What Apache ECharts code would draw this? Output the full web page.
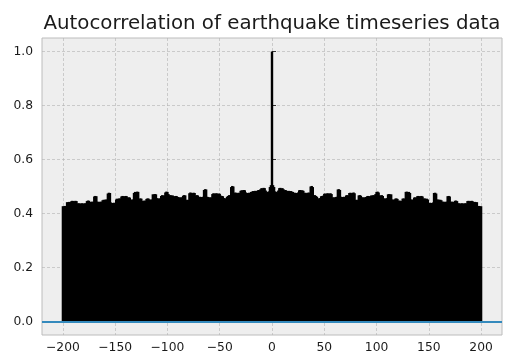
<!DOCTYPE html>
<html>
<head>
<meta charset="utf-8">
<script src="https://cdn.jsdelivr.net/npm/echarts@6/dist/echarts.min.js"></script>
<style>
  html, body { margin: 0; padding: 0; background: #ffffff; }
  #chart { width: 506px; height: 354px; }
</style>
</head>
<body>
<div id="chart"></div>
<script>
// autocorrelation for lags 0..200 (the acf is symmetric, negative lags mirror these)
const acfPositive = [
  1.000,
  0.505, 0.498, 0.482, 0.480, 0.478, 0.485, 0.494, 0.495, 0.492, 0.494,
  0.490, 0.486, 0.487, 0.484, 0.483, 0.484, 0.482, 0.483, 0.481, 0.480,
  0.476, 0.477, 0.475, 0.476, 0.478, 0.486, 0.487, 0.485, 0.486, 0.484,
  0.476, 0.477, 0.475, 0.476, 0.478, 0.476, 0.500, 0.502, 0.498, 0.467,
  0.468, 0.465, 0.462, 0.455, 0.456, 0.457, 0.464, 0.465, 0.466, 0.473,
  0.474, 0.472, 0.475, 0.474, 0.473, 0.475, 0.472, 0.459, 0.460, 0.458,
  0.461, 0.462, 0.489, 0.490, 0.487, 0.462, 0.461, 0.460, 0.462, 0.461,
  0.467, 0.468, 0.466, 0.476, 0.477, 0.475, 0.476, 0.478, 0.475, 0.450,
  0.451, 0.449, 0.467, 0.468, 0.466, 0.459, 0.460, 0.458, 0.460, 0.461,
  0.464, 0.465, 0.463, 0.464, 0.467, 0.466, 0.468, 0.467, 0.472, 0.480,
  0.481, 0.478, 0.467, 0.466, 0.468, 0.465, 0.455, 0.456, 0.454, 0.457,
  0.471, 0.472, 0.470, 0.471, 0.451, 0.452, 0.450, 0.455, 0.456, 0.454,
  0.447, 0.448, 0.446, 0.447, 0.455, 0.456, 0.454, 0.480, 0.481, 0.479,
  0.480, 0.476, 0.451, 0.452, 0.450, 0.459, 0.460, 0.458, 0.464, 0.465,
  0.463, 0.464, 0.465, 0.463, 0.455, 0.456, 0.454, 0.455, 0.452, 0.439,
  0.440, 0.438, 0.439, 0.441, 0.476, 0.477, 0.474, 0.451, 0.452, 0.450,
  0.451, 0.449, 0.443, 0.444, 0.442, 0.443, 0.444, 0.464, 0.465, 0.463,
  0.443, 0.444, 0.442, 0.443, 0.447, 0.448, 0.446, 0.437, 0.438, 0.436,
  0.437, 0.438, 0.436, 0.437, 0.438, 0.437, 0.446, 0.447, 0.445, 0.446,
  0.447, 0.445, 0.442, 0.443, 0.441, 0.442, 0.427, 0.428, 0.426, 0.427
];
const maxLag = acfPositive.length - 1;
const lags = [];
for (let k = -maxLag; k <= maxLag; k++) lags.push(k);
const acfValues = lags.map((k) => acfPositive[Math.abs(k)]);

const xTicks = [-200, -150, -100, -50, 0, 50, 100, 150, 200];
const yTicks = [0.0, 0.2, 0.4, 0.6, 0.8, 1.0];

const FONT = "DejaVu Sans";
const minus = (s) => String(s).replace("-", "\u2212");

const chart = echarts.init(document.getElementById("chart"), null, {renderer: "canvas"});

const option = {
  animation: false,
  backgroundColor: "#ffffff",
  title: {
    text: "Autocorrelation of earthquake timeseries data",
    left: 267,
    top: 9,
    textAlign: "center",
    textStyle: {fontFamily: FONT, fontSize: 19.8, fontWeight: "normal", color: "#1a1a1a"},
  },
  grid: {
    left: 42, right: 4, top: 38, bottom: 18,
    show: true,
    backgroundColor: "#eeeeee",
    borderColor: "#bcbcbc",
    borderWidth: 1,
  },
  xAxis: {
    type: "value",
    min: -220,
    max: 220,
    splitNumber: 9,
    axisLine: {show: false},
    axisTick: {show: true, inside: true, length: 4, lineStyle: {color: "#333333", width: 1}},
    axisLabel: {
      showMinLabel: false,
      showMaxLabel: false,
      margin: 7,
      fontFamily: FONT,
      fontSize: 12.3,
      color: "#1a1a1a",
      formatter: (v) => (xTicks.includes(v) ? minus(v) : ""),
    },
    splitLine: {
      show: true,
      showMinLine: false,
      showMaxLine: false,
      lineStyle: {color: "#b2b2b2", width: 0.6, type: [3, 2]},
    },
  },
  yAxis: {
    type: "value",
    min: -0.05,
    max: 1.05,
    splitNumber: 5,
    axisLine: {show: false},
    axisTick: {show: true, inside: true, length: 4, lineStyle: {color: "#333333", width: 1}},
    axisLabel: {
      showMinLabel: false,
      showMaxLabel: false,
      margin: 9,
      fontFamily: FONT,
      fontSize: 12.3,
      color: "#1a1a1a",
      formatter: (v) => {
        const t = yTicks.find((y) => Math.abs(y - v) < 1e-9);
        return t === undefined ? "" : t.toFixed(1);
      },
    },
    splitLine: {
      show: true,
      showMinLine: false,
      showMaxLine: false,
      lineStyle: {color: "#b2b2b2", width: 0.6, type: [3, 2]},
    },
  },
  series: [
    {
      name: "acf",
      type: "bar",
      barWidth: 2.4,
      data: lags.map((k, i) => [k, acfValues[i]]),
      itemStyle: {color: "#000000"},
      silent: true,
      markLine: {
        silent: true,
        symbol: ["none", "none"],
        label: {show: false},
        lineStyle: {color: "#348ABD", width: 2, type: "solid"},
        data: [{yAxis: 0}],
      },
    },
  ],
};

chart.setOption(option);
</script>
</body>
</html>
